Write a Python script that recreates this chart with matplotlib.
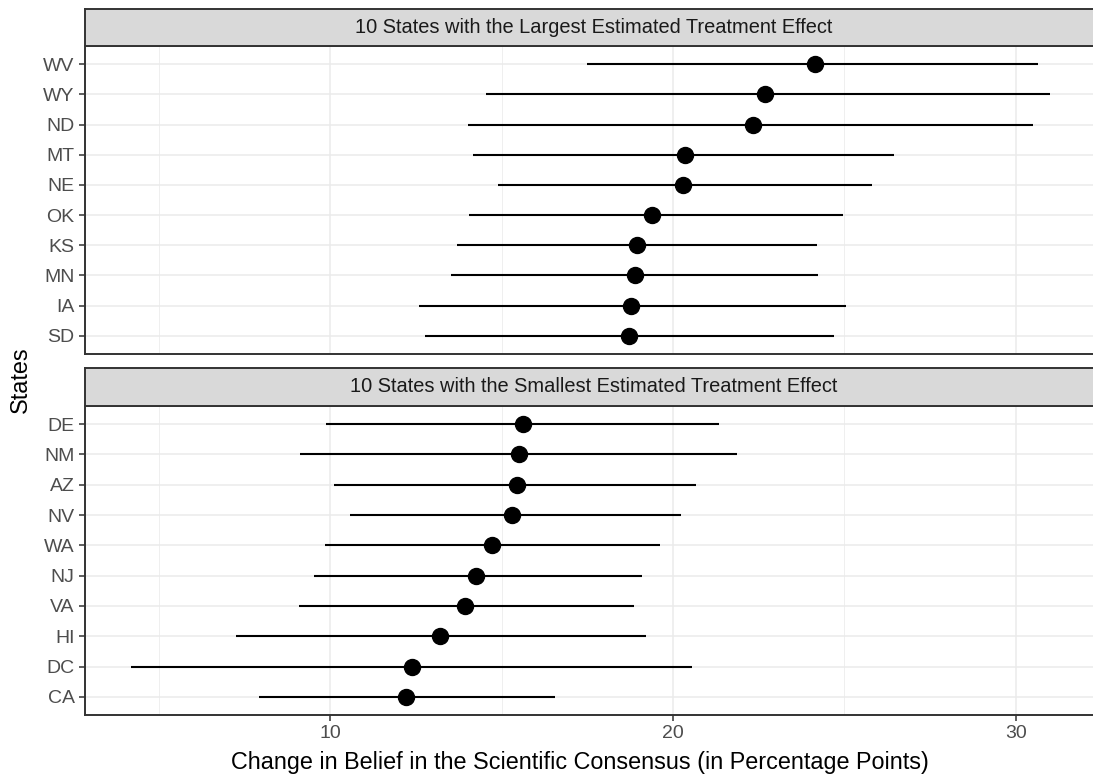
import matplotlib.pyplot as plt
from matplotlib.ticker import MultipleLocator

# ------------ data ------------
top_title = "10 States with the Largest Estimated Treatment Effect"
top_states = ["WV", "WY", "ND", "MT", "NE", "OK", "KS", "MN", "IA", "SD"]
top_est = [24.15, 22.69, 22.33, 20.35, 20.29, 19.38, 18.96, 18.90, 18.78, 18.72]
top_low = [17.50, 14.54, 14.02, 14.17, 14.91, 14.05, 13.71, 13.53, 12.58, 12.77]
top_high = [30.65, 31.00, 30.51, 26.44, 25.80, 24.95, 24.20, 24.23, 25.05, 24.70]

bot_title = "10 States with the Smallest Estimated Treatment Effect"
bot_states = ["DE", "NM", "AZ", "NV", "WA", "NJ", "VA", "HI", "DC", "CA"]
bot_est = [15.62, 15.51, 15.45, 15.30, 14.73, 14.26, 13.94, 13.21, 12.40, 12.21]
bot_low = [9.88, 9.12, 10.10, 10.58, 9.85, 9.53, 9.10, 7.25, 4.19, 7.94]
bot_high = [21.33, 21.86, 20.67, 20.23, 19.61, 19.10, 18.86, 19.21, 20.55, 16.57]

x_ticks = [10, 20, 30]
x_label = "Change in Belief in the Scientific Consensus (in Percentage Points)"
y_label = "States"

# ------------ plotting ------------
plt.rcParams['font.family'] = ['Liberation Sans', 'DejaVu Sans']

W, H = 1093, 778
fig = plt.figure(figsize=(W / 100, H / 100), dpi=100)

FRAME = '#333333'
GRID = '#EBEBEB'


def px_box(x0, y0, x1, y1):
    return [x0 / W, 1 - y1 / H, (x1 - x0) / W, (y1 - y0) / H]


def draw_panel(panel_box, strip_box, title, states, est, low, high, show_x):
    ax = fig.add_axes(px_box(*panel_box))
    n = len(states)
    ypos = list(range(n))
    ax.hlines(ypos, low, high, color='black', lw=1.5, zorder=3)
    ax.plot(est, ypos, 'o', color='black', markersize=11.5, zorder=4)
    ax.set_yticks(ypos)
    ax.set_yticklabels(states)
    ax.set_ylim(n - 0.4, -0.6)
    ax.set_xlim(2.85, 32.34)
    ax.set_xticks(x_ticks)
    ax.xaxis.set_minor_locator(MultipleLocator(5))
    ax.grid(True, which='major', color=GRID, lw=1.1, zorder=0)
    ax.grid(True, which='minor', axis='x', color=GRID, lw=0.55, zorder=0)
    ax.set_axisbelow(True)
    for s in ax.spines.values():
        s.set_color(FRAME)
        s.set_linewidth(1.4)
    ax.tick_params(axis='both', which='major', colors=FRAME, length=4.5,
                   width=1.1, labelsize=14, labelcolor='#4D4D4D', pad=3)
    ax.tick_params(axis='x', which='minor', length=0)
    if not show_x:
        ax.tick_params(axis='x', which='major', length=0, labelbottom=False)

    sax = fig.add_axes(px_box(*strip_box))
    sax.set_facecolor('#D9D9D9')
    sax.set_xticks([])
    sax.set_yticks([])
    for s in sax.spines.values():
        s.set_color(FRAME)
        s.set_linewidth(1.4)
    sax.text((594 - strip_box[0]) / (strip_box[2] - strip_box[0]), 0.5, title,
             transform=sax.transAxes, ha='center', va='center',
             fontsize=14.4, color='#1A1A1A')
    return ax


draw_panel((85, 46, 1096, 354), (85, 9, 1096, 46), top_title,
           top_states, top_est, top_low, top_high, False)
draw_panel((85, 406, 1096, 715), (85, 368, 1096, 406), bot_title,
           bot_states, bot_est, bot_low, bot_high, True)

fig.text(580 / W, 1 - 763 / H, x_label, ha='center', va='center',
         fontsize=16.8, color='black')
fig.text(20 / W, 1 - 380 / H, y_label, ha='center', va='center',
         rotation=90, fontsize=16.8, color='black')

fig.savefig('out.png', dpi=100)
